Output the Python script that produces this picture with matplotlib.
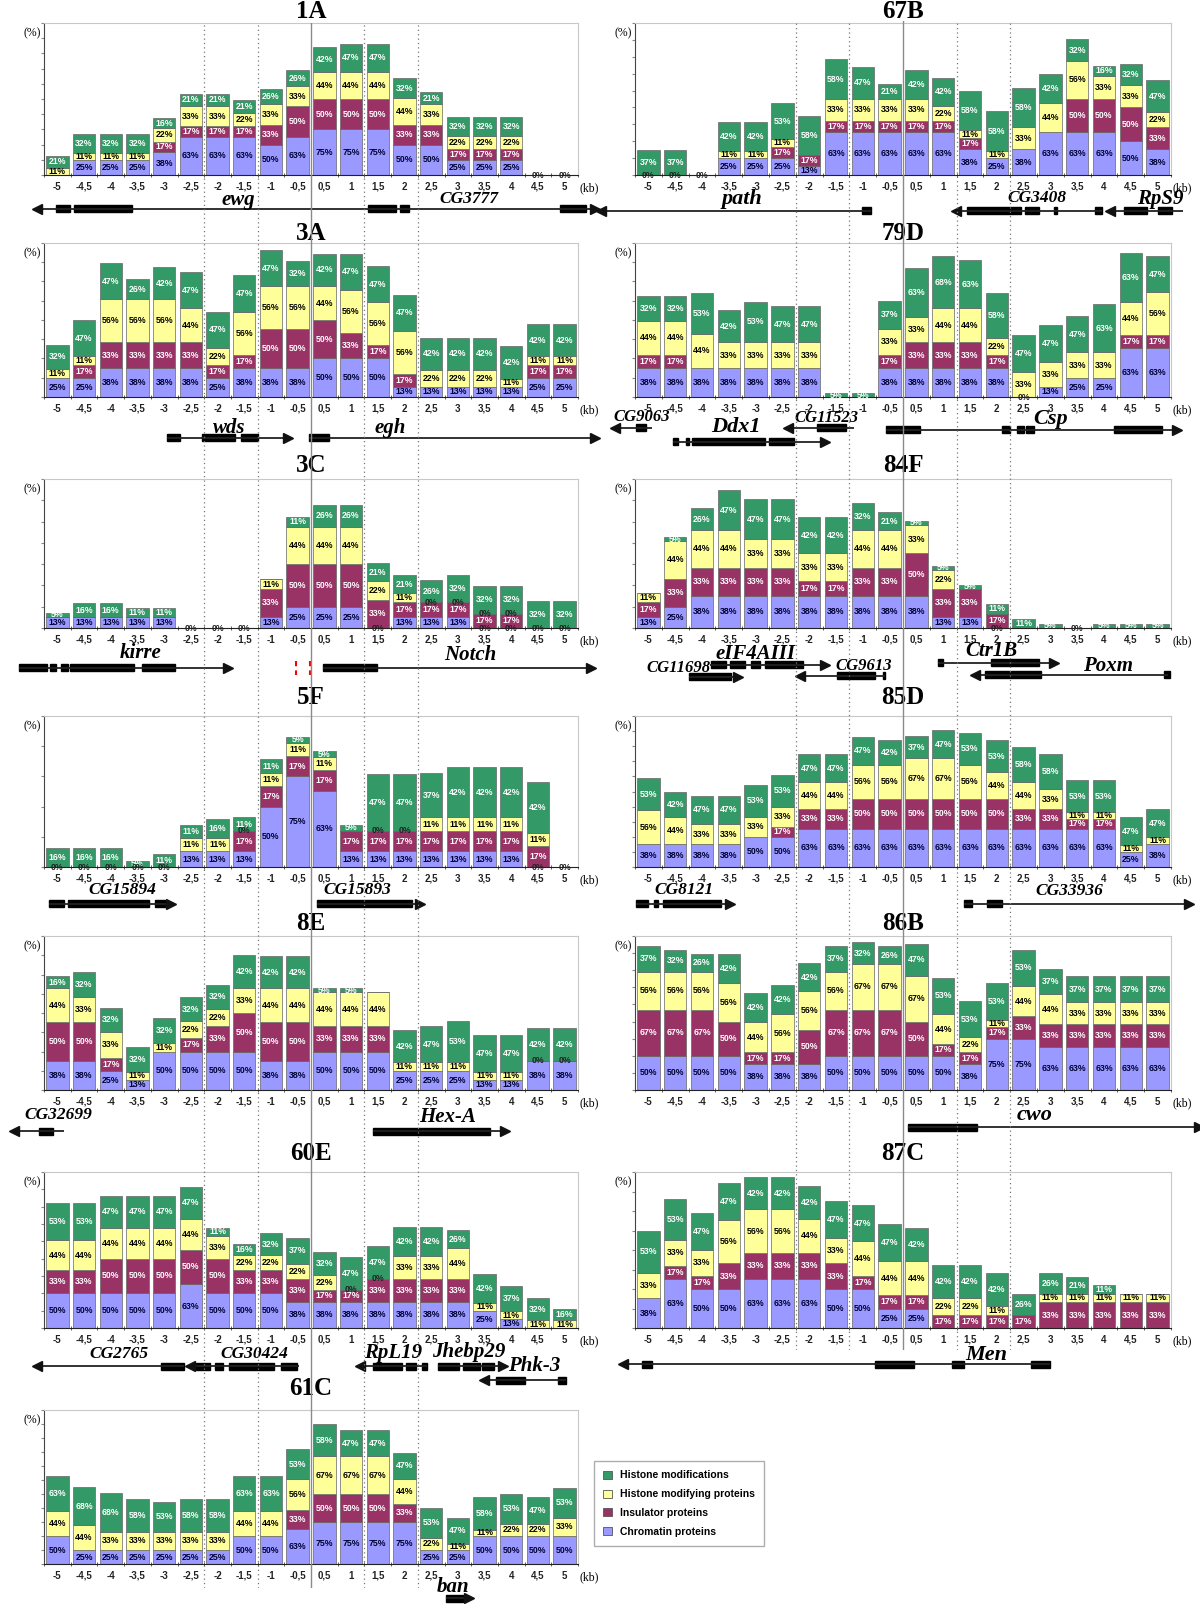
import matplotlib
matplotlib.use("Agg")
import matplotlib.pyplot as plt
from matplotlib.patches import Patch, Rectangle

W, H = 1200, 1619
SANS = "Liberation Sans"
SERIF = "Liberation Serif"

kb_labels = ["-5", "-4,5", "-4", "-3,5", "-3", "-2,5", "-2", "-1,5", "-1", "-0,5",
             "0,5", "1", "1,5", "2", "2,5", "3", "3,5", "4", "4,5", "5"]
category_names = ["Chromatin proteins", "Insulator proteins",
                  "Histone modifying proteins", "Histone modifications"]
bar_colors = ["#9999ff", "#993366", "#ffff99", "#339966"]
label_colors = ["#000033", "white", "black", "white"]

# values (%) per 0.5 kb slot: chromatin, insulator, histone-modifying proteins, histone modifications
p1A_chr = [0, 25, 25, 25, 38, 63, 63, 63, 50, 63, 75, 75, 75, 50, 50, 25, 25, 25, 0, 0]
p1A_ins = [0, 0, 0, 0, 17, 17, 17, 17, 33, 50, 50, 50, 50, 33, 33, 17, 17, 17, 0, 0]
p1A_hmp = [11, 11, 11, 11, 22, 33, 33, 22, 33, 33, 44, 44, 44, 44, 33, 22, 22, 22, 0, 0]
p1A_hm = [21, 32, 32, 32, 16, 21, 21, 21, 26, 26, 42, 47, 47, 32, 21, 32, 32, 32, 0, 0]

p67B_chr = [0, 0, 0, 25, 25, 25, 13, 63, 63, 63, 63, 63, 38, 25, 38, 63, 63, 63, 50, 38]
p67B_ins = [0, 0, 0, 0, 0, 17, 17, 17, 17, 17, 17, 17, 17, 0, 0, 0, 50, 50, 50, 33]
p67B_hmp = [0, 0, 0, 11, 11, 11, 0, 33, 33, 33, 33, 22, 11, 11, 33, 44, 56, 33, 33, 22]
p67B_hm = [37, 37, 0, 42, 42, 53, 58, 58, 47, 21, 42, 42, 58, 58, 58, 42, 32, 16, 32, 47]

p3A_chr = [25, 25, 38, 38, 38, 38, 25, 38, 38, 38, 50, 50, 50, 13, 13, 13, 13, 13, 25, 25]
p3A_ins = [0, 17, 33, 33, 33, 33, 17, 17, 50, 50, 50, 33, 17, 17, 0, 0, 0, 0, 17, 17]
p3A_hmp = [11, 11, 56, 56, 56, 44, 22, 56, 56, 56, 44, 56, 56, 56, 22, 22, 22, 11, 11, 11]
p3A_hm = [32, 47, 47, 26, 42, 47, 47, 47, 47, 32, 42, 47, 47, 47, 42, 42, 42, 42, 42, 42]

p79D_chr = [38, 38, 38, 38, 38, 38, 38, 0, 0, 38, 38, 38, 38, 38, 0, 13, 25, 25, 63, 63]
p79D_ins = [17, 17, 0, 0, 0, 0, 0, 0, 0, 17, 33, 33, 33, 17, 0, 0, 0, 0, 17, 17]
p79D_hmp = [44, 44, 44, 33, 33, 33, 33, 0, 0, 33, 33, 44, 44, 22, 33, 33, 33, 33, 44, 56]
p79D_hm = [32, 32, 53, 42, 53, 47, 47, 5, 5, 37, 63, 68, 63, 58, 47, 47, 47, 63, 63, 47]

p3C_chr = [13, 13, 13, 13, 13, 0, 0, 0, 13, 25, 25, 25, 0, 13, 13, 13, 0, 0, 0, 0]
p3C_ins = [0, 0, 0, 0, 0, 0, 0, 0, 33, 50, 50, 50, 33, 17, 17, 17, 17, 17, 0, 0]
p3C_hmp = [0, 0, 0, 0, 0, 0, 0, 0, 11, 44, 44, 44, 22, 11, 0, 0, 0, 0, 0, 0]
p3C_hm = [5, 16, 16, 11, 11, 0, 0, 0, 0, 11, 26, 26, 21, 21, 26, 32, 32, 32, 32, 32]

p84F_chr = [13, 25, 38, 38, 38, 38, 38, 38, 38, 38, 38, 13, 13, 0, 0, 0, 0, 0, 0, 0]
p84F_ins = [17, 33, 33, 33, 33, 33, 17, 17, 33, 33, 50, 33, 33, 17, 0, 0, 0, 0, 0, 0]
p84F_hmp = [11, 44, 44, 44, 33, 33, 33, 33, 44, 44, 33, 22, 0, 0, 0, 0, 0, 0, 0, 0]
p84F_hm = [0, 5, 26, 47, 47, 47, 42, 42, 32, 21, 5, 5, 5, 11, 11, 5, 0, 5, 5, 5]

p5F_chr = [0, 0, 0, 0, 0, 13, 13, 13, 50, 75, 63, 13, 13, 13, 13, 13, 13, 13, 0, 0]
p5F_ins = [0, 0, 0, 0, 0, 0, 0, 17, 17, 17, 17, 17, 17, 17, 17, 17, 17, 17, 17, 0]
p5F_hmp = [0, 0, 0, 0, 0, 11, 11, 0, 11, 11, 11, 0, 0, 0, 11, 11, 11, 11, 11, 0]
p5F_hm = [16, 16, 16, 5, 11, 11, 16, 11, 11, 5, 5, 5, 47, 47, 37, 42, 42, 42, 42, 0]

p85D_chr = [38, 38, 38, 38, 50, 50, 63, 63, 63, 63, 63, 63, 63, 63, 63, 63, 63, 63, 25, 38]
p85D_ins = [0, 0, 0, 0, 0, 17, 33, 33, 50, 50, 50, 50, 50, 50, 33, 33, 17, 17, 0, 0]
p85D_hmp = [56, 44, 33, 33, 33, 33, 44, 44, 56, 56, 67, 67, 56, 44, 44, 33, 11, 11, 11, 11]
p85D_hm = [53, 42, 47, 47, 53, 53, 47, 47, 47, 42, 37, 47, 53, 53, 58, 58, 53, 53, 47, 47]

p8E_chr = [38, 38, 25, 13, 50, 50, 50, 50, 38, 38, 50, 50, 50, 25, 25, 25, 13, 13, 38, 38]
p8E_ins = [50, 50, 17, 0, 0, 17, 33, 50, 50, 50, 33, 33, 33, 0, 0, 0, 0, 0, 0, 0]
p8E_hmp = [44, 33, 33, 11, 11, 22, 22, 33, 44, 44, 44, 44, 44, 11, 11, 11, 11, 11, 0, 0]
p8E_hm = [16, 32, 32, 32, 32, 32, 32, 42, 42, 42, 5, 5, 0, 42, 47, 53, 47, 47, 42, 42]

p86B_chr = [50, 50, 50, 50, 38, 38, 38, 50, 50, 50, 50, 50, 38, 75, 75, 63, 63, 63, 63, 63]
p86B_ins = [67, 67, 67, 50, 17, 17, 50, 67, 67, 67, 50, 17, 17, 17, 33, 33, 33, 33, 33, 33]
p86B_hmp = [56, 56, 56, 56, 44, 56, 56, 56, 67, 67, 67, 44, 22, 11, 44, 44, 33, 33, 33, 33]
p86B_hm = [37, 32, 26, 42, 42, 42, 42, 37, 32, 26, 47, 53, 53, 53, 53, 37, 37, 37, 37, 37]

p60E_chr = [50, 50, 50, 50, 50, 63, 50, 50, 50, 38, 38, 38, 38, 38, 38, 38, 25, 13, 0, 0]
p60E_ins = [33, 33, 50, 50, 50, 50, 50, 33, 33, 33, 17, 17, 33, 33, 33, 33, 0, 0, 0, 0]
p60E_hmp = [44, 44, 44, 44, 44, 44, 33, 22, 22, 22, 22, 0, 0, 33, 33, 44, 11, 11, 11, 11]
p60E_hm = [53, 53, 47, 47, 47, 47, 11, 16, 32, 37, 32, 47, 47, 42, 42, 26, 42, 37, 32, 16]

p87C_chr = [38, 63, 50, 50, 63, 63, 63, 50, 50, 25, 25, 0, 0, 0, 0, 0, 0, 0, 0, 0]
p87C_ins = [0, 17, 17, 33, 33, 33, 33, 33, 17, 17, 17, 17, 17, 17, 17, 33, 33, 33, 33, 33]
p87C_hmp = [33, 33, 33, 56, 56, 56, 44, 33, 44, 44, 44, 22, 22, 11, 0, 11, 11, 11, 11, 11]
p87C_hm = [53, 53, 47, 47, 42, 42, 42, 47, 47, 47, 42, 42, 42, 42, 26, 26, 21, 11, 0, 0]

p61C_chr = [50, 25, 25, 25, 25, 25, 25, 50, 50, 63, 75, 75, 75, 75, 25, 25, 50, 50, 50, 50]
p61C_ins = [0, 0, 0, 0, 0, 0, 0, 0, 0, 33, 50, 50, 50, 33, 0, 0, 0, 0, 0, 0]
p61C_hmp = [44, 44, 33, 33, 33, 33, 33, 44, 44, 56, 67, 67, 67, 44, 22, 11, 11, 22, 22, 33]
p61C_hm = [63, 68, 68, 58, 53, 58, 58, 63, 63, 53, 58, 47, 47, 47, 53, 47, 58, 53, 47, 53]

# zero segments that carry a "0%" label: (slot index, category)
z1A = [(18, 0), (19, 0)]
z67B = [(0, 0), (1, 0), (2, 0)]
z3A = []
z79D = [(14, 0)]
z3C = [(5, 0), (6, 0), (7, 0), (12, 0), (14, 2), (15, 2), (16, 0), (16, 2),
       (17, 0), (17, 2), (18, 0), (19, 0)]
z84F = [(13, 0), (16, 0)]
z5F = [(0, 0), (1, 0), (2, 0), (3, 0), (4, 0), (7, 2), (12, 2), (13, 2), (18, 0), (19, 0)]
z85D = []
z8E = [(18, 2), (19, 2)]
z86B = []
z60E = [(11, 2), (12, 2)]
z87C = []
z61C = []

# gene annotation: names (text, kb, px below axis, size) and tracks (px below, start, end, arrow, exons)
n1A = [("ewg", -1.37, 25, 15), ("CG3777", 2.95, 24, 12.5)]
t1A = [(34, -5.13, 1.0, "<", [(-4.77, -4.51), (-4.44, -3.35)]),
       (34, 1.0, 5.31, ">", [(1.06, 1.60), (1.67, 1.83), (4.66, 5.15)])]
n67B = [("path", -3.0, 24, 16), ("CG3408", 2.5, 23, 12.5), ("RpS9", 4.8, 24, 15)]
t67B = [(36, -5.63, -0.59, "<", [(-0.77, -0.59)]),
        (36, 0.99, 3.72, "<", [(1.20, 2.21), (2.28, 2.53), (2.82, 2.88), (3.58, 3.72)]),
        (36, 3.86, 5.23, "<", [(4.12, 4.55), (4.76, 5.01)])]
n3A = [("wds", -1.53, 31, 15), ("egh", 1.49, 31, 15)]
t3A = [(41, -2.69, -0.44, ">", [(-2.69, -2.45), (-2.04, -1.42), (-1.31, -1.0)]),
       (41, -0.04, 5.31, ">", [(-0.04, 0.33)])]
n79D = [("CG9063", -4.87, 20, 12), ("Ddx1", -3.11, 30, 16), ("CG11523", -1.42, 21, 12),
        ("Csp", 2.75, 22, 16)]
t79D = [(31, -5.37, -4.69, "<", [(-4.98, -4.80)]),
        (45, -4.30, -1.46, ">", [(-4.30, -4.19), (-4.05, -4.0), (-3.94, -2.57), (-2.50, -2.03)]),
        (31, -2.14, -0.92, "<", [(-1.60, -1.06)]),
        (33, -0.31, 5.12, ">", [(-0.31, 0.31), (1.85, 2.0), (2.12, 2.25), (2.30, 2.44), (3.94, 4.83)])]
n3C = [("kirre", -3.20, 25, 15), ("Notch", 2.98, 27, 15)]
t3C = [(40, -5.46, -1.56, ">", [(-5.46, -4.95), (-4.88, -4.77), (-4.69, -4.55), (-4.51, -3.31),
                                (-3.17, -2.55)]),
       (40, 0.22, 5.24, ">", [(0.22, 1.24)])]
n84F = [("eIF4AIII", -2.75, 26, 15), ("CG11698", -4.19, 40, 12), ("CG9613", -0.74, 38, 12),
        ("Ctr1B", 1.64, 23, 15), ("Poxm", 3.83, 38, 15)]
t84F = [(37, -3.61, -1.46, ">", [(-3.58, -3.30), (-3.23, -2.94), (-2.84, -2.66), (-2.57, -1.86)]),
        (49, -3.99, -3.07, ">", [(-3.99, -3.21)]),
        (48, -1.92, -0.34, "<", [(-1.24, -0.52), (-0.38, -0.34)]),
        (35, 0.66, 2.82, ">", [(0.66, 0.74), (1.64, 2.17), (2.17, 2.53)]),
        (47, 1.35, 4.94, "<", [(1.53, 2.57), (4.87, 4.98)])]
n5F = [("CG15894", -3.53, 23, 12.5), ("CG15893", 0.87, 23, 12.5)]
t5F = [(37, -4.91, -2.62, ">", [(-4.91, -4.62), (-4.55, -3.03), (-2.92, -2.74)]),
       (37, 0.11, 2.04, ">", [(0.11, 1.9)])]
n85D = [("CG8121", -4.08, 23, 12.5), ("CG33936", 3.11, 24, 12.5)]
t85D = [(37, -4.98, -3.22, ">", [(-4.98, -4.76), (-4.65, -4.58), (-4.47, -3.4)]),
        (37, 1.13, 5.34, ">", [(1.13, 1.28), (1.56, 1.85)])]
n8E = [("CG32699", -4.73, 25, 12.5), ("Hex-A", 2.55, 27, 15)]
t8E = [(41, -5.57, -4.62, "<", [(-5.09, -4.84)]),
       (41, 1.16, 3.64, ">", [(1.16, 3.35)])]
n86B = [("cwo", 2.46, 25, 16)]
t86B = [(37, 0.09, 5.52, ">", [(0.09, 1.38)])]
n60E = [("CG2765", -3.60, 26, 12.5), ("CG30424", -1.06, 26, 12.5), ("RpL19", 1.53, 25, 15),
        ("Jhebp29", 2.95, 24, 15), ("Phk-3", 4.18, 38, 15)]
t60E = [(38, -5.13, -2.37, "<", [(-2.80, -2.37)]),
        (38, -2.26, -0.22, "<", [(-2.15, -1.90), (-1.79, -1.64), (-1.53, -0.70), (-0.56, -0.27)]),
        (38, 0.91, 2.18, "<", [(1.17, 1.71), (1.78, 1.97), (2.07, 2.18)]),
        (38, 2.37, 3.60, ">", [(2.37, 2.77), (2.85, 3.17), (3.21, 3.43)]),
        (52, 3.24, 4.77, "<", [(3.46, 4.0), (4.62, 4.77)])]
n87C = [("Men", 1.56, 27, 16)]
t87C = [(36, -5.23, 2.75, "<", [(-4.87, -4.69), (-0.52, 0.20), (0.92, 1.13), (2.39, 2.75)])]
n61C = [("ban", 2.66, 23, 15)]
t61C = [(34, 2.53, 2.95, ">", [(2.53, 2.85)])]

# name, column, row, y max, data, zero labels, gene names, gene tracks
panels = [
    ("1A", 0, 0, 250, [p1A_chr, p1A_ins, p1A_hmp, p1A_hm], z1A, n1A, t1A),
    ("3A", 0, 1, 200, [p3A_chr, p3A_ins, p3A_hmp, p3A_hm], z3A, n3A, t3A),
    ("3C", 0, 2, 175, [p3C_chr, p3C_ins, p3C_hmp, p3C_hm], z3C, n3C, t3C),
    ("5F", 0, 3, 125, [p5F_chr, p5F_ins, p5F_hmp, p5F_hm], z5F, n5F, t5F),
    ("8E", 0, 4, 200, [p8E_chr, p8E_ins, p8E_hmp, p8E_hm], z8E, n8E, t8E),
    ("60E", 0, 5, 225, [p60E_chr, p60E_ins, p60E_hmp, p60E_hm], z60E, n60E, t60E),
    ("61C", 0, 6, 275, [p61C_chr, p61C_ins, p61C_hmp, p61C_hm], z61C, n61C, t61C),
    ("67B", 1, 0, 225, [p67B_chr, p67B_ins, p67B_hmp, p67B_hm], z67B, n67B, t67B),
    ("79D", 1, 1, 200, [p79D_chr, p79D_ins, p79D_hmp, p79D_hm], z79D, n79D, t79D),
    ("84F", 1, 2, 175, [p84F_chr, p84F_ins, p84F_hmp, p84F_hm], z84F, n84F, t84F),
    ("85D", 1, 3, 250, [p85D_chr, p85D_ins, p85D_hmp, p85D_hm], z85D, n85D, t85D),
    ("86B", 1, 4, 225, [p86B_chr, p86B_ins, p86B_hmp, p86B_hm], z86B, n86B, t86B),
    ("87C", 1, 5, 200, [p87C_chr, p87C_ins, p87C_hmp, p87C_hm], z87C, n87C, t87C),
]

# layout in pixels
col_x = [44, 635]
col_w = [534, 536]
row_top = [23, 243, 479, 716, 936, 1172, 1410]
row_base = [175, 397, 628, 867, 1090, 1328, 1564]
title_y = [12, 234, 465, 697, 923, 1153, 1388]
line_span = [(23, 1588), (21, 1350)]


def px_rect(x, top, w, h):
    return [x / W, 1 - (top + h) / H, w / W, h / H]


centers = [-4.75 + 0.5 * i for i in range(20)]
edges = [-5 + 0.5 * i for i in range(21)]

fig = plt.figure(figsize=(W / 100, H / 100), dpi=100)

for name, col, row, ymax, series, zeros, names, tracks in panels:
    x0, w = col_x[col], col_w[col]
    top, base = row_top[row], row_base[row]
    ax = fig.add_axes(px_rect(x0, top, w, base - top))

    bottom = [0] * 20
    for s in range(4):
        vals = series[s]
        ax.bar(centers, vals, width=0.42, bottom=bottom, color=bar_colors[s],
               edgecolor="#666666", linewidth=0.5, zorder=2)
        for i, v in enumerate(vals):
            if v > 0:
                ax.text(centers[i], bottom[i] + v / 2, f"{v}%", ha="center", va="center",
                        fontsize=6.3, fontweight="bold", family=SANS,
                        color=label_colors[s], zorder=3)
        bottom = [b + v for b, v in zip(bottom, vals)]
    for i, s in zeros:
        y = sum(series[k][i] for k in range(s))
        ax.text(centers[i], y, "0%", ha="center", va="center", fontsize=6.3,
                fontweight="bold", family=SANS, color="#222222", zorder=3)

    ax.set_xlim(-5, 5)
    ax.set_ylim(0, ymax)
    for sp in ("top", "right"):
        ax.spines[sp].set_color("#c8c8c8")
    ax.spines["left"].set_color("#444444")
    ax.spines["bottom"].set_color("#222222")
    ax.set_xticks(centers)
    ax.set_xticklabels(kb_labels, fontsize=7, fontweight="bold", family=SANS)
    ax.set_xticks(edges, minor=True)
    ax.tick_params(axis="x", which="major", length=0, pad=5, labelcolor="#222222")
    ax.tick_params(axis="x", which="minor", length=3, direction="inout", color="#444444")
    ax.set_yticks(range(0, ymax + 1, 25))
    ax.set_yticklabels([])
    ax.tick_params(axis="y", length=2, color="#888888")

    ax.annotate("(kb)", xy=(1, 0), xycoords="axes fraction", xytext=(1, -9.5),
                textcoords="offset points", ha="left", va="center", fontsize=8.5, family=SERIF)
    ax.annotate("(%)", xy=(0, 1), xycoords="axes fraction", xytext=(-2, -3),
                textcoords="offset points", ha="right", va="top", fontsize=8.5, family=SERIF)
    fig.text((x0 + w / 2) / W, 1 - title_y[row] / H, name, ha="center", va="center",
             fontsize=18, fontweight="bold", family=SERIF)

    # gene track under the panel
    ta = fig.add_axes(px_rect(x0, base, w, 70))
    ta.set_xlim(-5, 5)
    ta.set_ylim(-70, 0)
    ta.axis("off")
    for d, x1, x2, head, exons in tracks:
        ta.plot([x1, x2], [-d, -d], color="#222222", lw=1.3, clip_on=False,
                solid_capstyle="butt")
        for e1, e2 in exons:
            ta.add_patch(Rectangle((e1, -d - 3.5), e2 - e1, 7, color="black", clip_on=False))
        hx = x1 if head == "<" else x2
        ta.plot([hx], [-d], marker=head, ms=6.5, color="#111111", clip_on=False)
    for text, gx, d, size in names:
        ta.text(gx, -d, text, ha="center", va="center", fontsize=size, family=SERIF,
                style="italic", fontweight="bold", clip_on=False)
    if name == "3C":
        for xv in (-0.29, -0.02):
            ta.plot([xv, xv], [-33, -47], color="red", ls=(0, (2.5, 2)), lw=1.5)

# dotted kb boundaries and the solid line at 0, running through each column
for col, (ytop, ybot) in enumerate(line_span):
    ov = fig.add_axes(px_rect(col_x[col], ytop, col_w[col], ybot - ytop), zorder=5)
    ov.set_xlim(-5, 5)
    ov.set_ylim(0, 1)
    ov.axis("off")
    for xv in (-2, -1, 1, 2):
        ov.axvline(xv, color="#777777", ls=(0, (1, 2.5)), lw=0.9)
    ov.axvline(0, color="#8a8a8a", lw=1.0)

handles = [Patch(facecolor=bar_colors[s], edgecolor="#555555", lw=0.6, label=category_names[s])
           for s in (3, 2, 1, 0)]
fig.legend(handles=handles, loc="upper left", bbox_to_anchor=(594 / W, 1 - 1461 / H),
           frameon=True, fancybox=False, edgecolor="#999999",
           prop={"family": SANS, "weight": "bold", "size": 7.5},
           handlelength=0.8, handleheight=0.8, handletextpad=0.8, borderpad=0.9,
           labelspacing=0.85, borderaxespad=0)

fig.savefig("out.png", dpi=100)
